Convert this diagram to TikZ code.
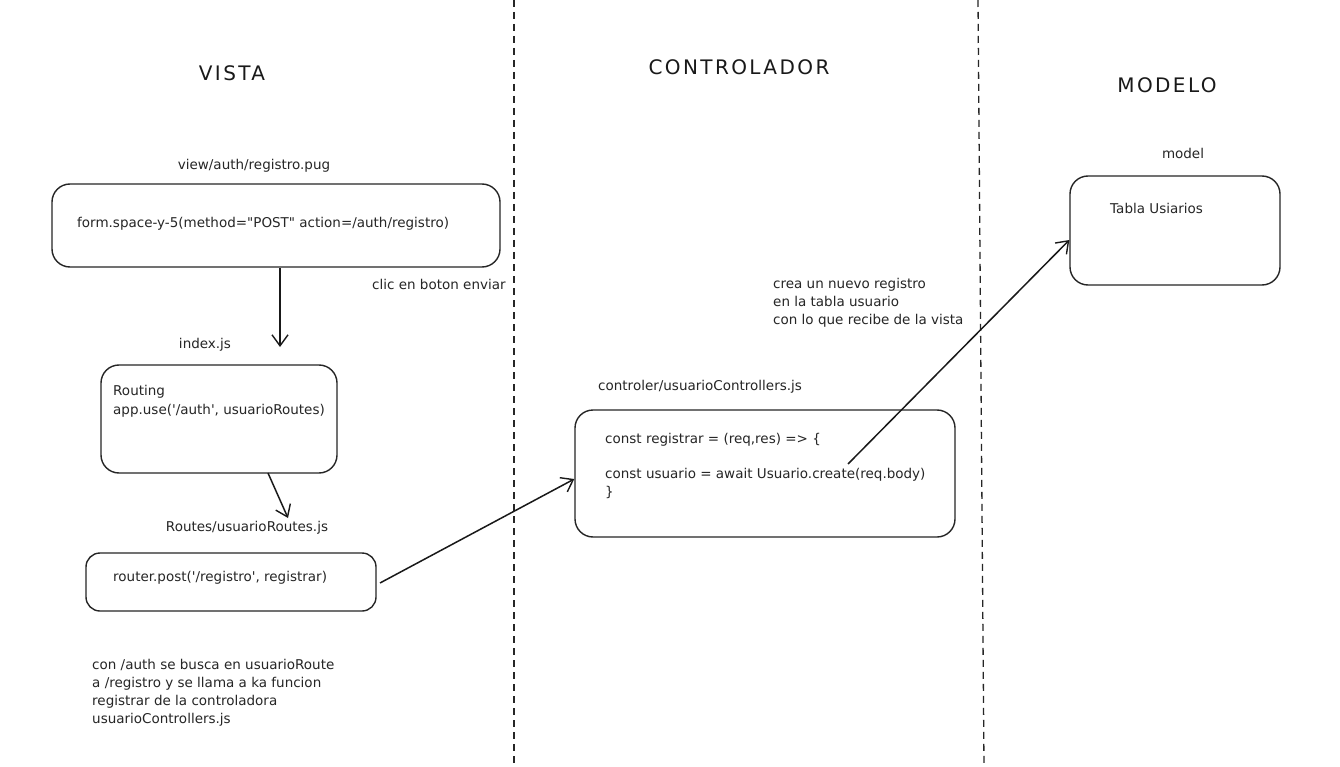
\documentclass[tikz,border=0pt]{standalone}
\usepackage{fontspec}
\setmainfont{DejaVu Sans}[Ligatures=TeXOff]
\newfontfamily\titlefont[LetterSpace=12]{DejaVu Sans}
\usetikzlibrary{arrows.meta}
\tikzset{
  box/.style={draw=black!85, line width=1.4pt, rounded corners=18pt, inner sep=0pt},
  lbl/.style={inner sep=0pt, font=\fontsize{13.5}{18}\selectfont, text=black!85},
  ttl/.style={inner sep=0pt, font=\titlefont\fontsize{20}{24}\selectfont, text=black!90},
  arr/.style={draw=black!90, line width=1.5pt, -{Straight Barb[length=11pt,width=16pt,line width=1.4pt]}},
  divider/.style={draw=black!85, line width=1.3pt, dash pattern=on 7pt off 5pt}
}
\begin{document}
\begin{tikzpicture}[x=1pt,y=-1pt]
\useasboundingbox[fill=white] (0,0) rectangle (1340,767);
% dividers
\coordinate (d1t) at (514,0); \coordinate (d1b) at (514,767);
\coordinate (d2t) at (978,0); \coordinate (d2b) at (984,767);
\draw[divider] (d1t) -- (d1b);
\draw[divider] (d2t) -- (d2b);
% titles
\node[ttl] (tv) at (232,73) {VISTA};
\node[ttl] (tc) at (739,67) {CONTROLADOR};
\node[ttl] (tm) at (1167,85) {MODELO};
% boxes
\node[box, minimum width=448pt, minimum height=83pt] (b1) at (276,225.5) {};
\node[box, minimum width=236pt, minimum height=108pt] (b2) at (219,419) {};
\node[box, minimum width=290pt, minimum height=58pt, rounded corners=14pt] (b3) at (231,582) {};
\node[box, minimum width=380pt, minimum height=127pt] (b4) at (765,473.5) {};
\node[box, minimum width=210pt, minimum height=109pt] (b5) at (1175,230.5) {};
% labels
\node[lbl] (l1) at (254,166) {view/auth/registro.pug};
\node[lbl, anchor=west] (t1) at (77,224) {form.space-y-5(method="POST" action=/auth/registro)};
\node[lbl, anchor=west] (l2) at (372,284) {clic en boton enviar};
\node[lbl] (l3) at (205,345) {index.js};
\node[lbl, anchor=west] (t2a) at (113,392) {Routing};
\node[lbl, anchor=west] (t2b) at (113,411) {app.use('/auth', usuarioRoutes)};
\node[lbl] (l4) at (247,528) {Routes/usuarioRoutes.js};
\node[lbl, anchor=west] (t3) at (113,578) {router.post('/registro', registrar)};
\node[lbl, anchor=west] (l5) at (598,387) {controler/usuarioControllers.js};
\node[lbl, anchor=west] (t4a) at (605,440) {const registrar = (req,res) => \{};
\node[lbl, anchor=west] (t4b) at (605,475) {const usuario = await Usuario.create(req.body)};
\node[lbl, anchor=west] (t4c) at (605,492) {\}};
\node[lbl, anchor=west, align=left] (l6) at (773,303) {crea un nuevo registro\\en la tabla usuario\\con lo que recibe de la vista};
\node[lbl] (l7) at (1183,153) {model};
\node[lbl, anchor=west] (t5) at (1110,208) {Tabla Usiarios};
\node[lbl, anchor=west, align=left] (l8) at (92,693) {con /auth se busca en usuarioRoute\\a /registro y se llama a ka funcion\\registrar de la controladora\\usuarioControllers.js};
% connectors
\coordinate (a1s) at (280,268);
\coordinate (a1e) at (280,347);
\draw[arr] (a1s) -- (a1e);
\coordinate (a2s) at (268,473);
\coordinate (a2e) at (288,518);
\draw[arr] (a2s) -- (a2e);
\coordinate (a3s) at (380,583);
\draw[arr] (a3s) -- (b4.west |- 0,479);
\coordinate (a4s) at (848,464);
\draw[arr] (a4s) -- (b5.west |- 0,240);
\end{tikzpicture}
\end{document}
